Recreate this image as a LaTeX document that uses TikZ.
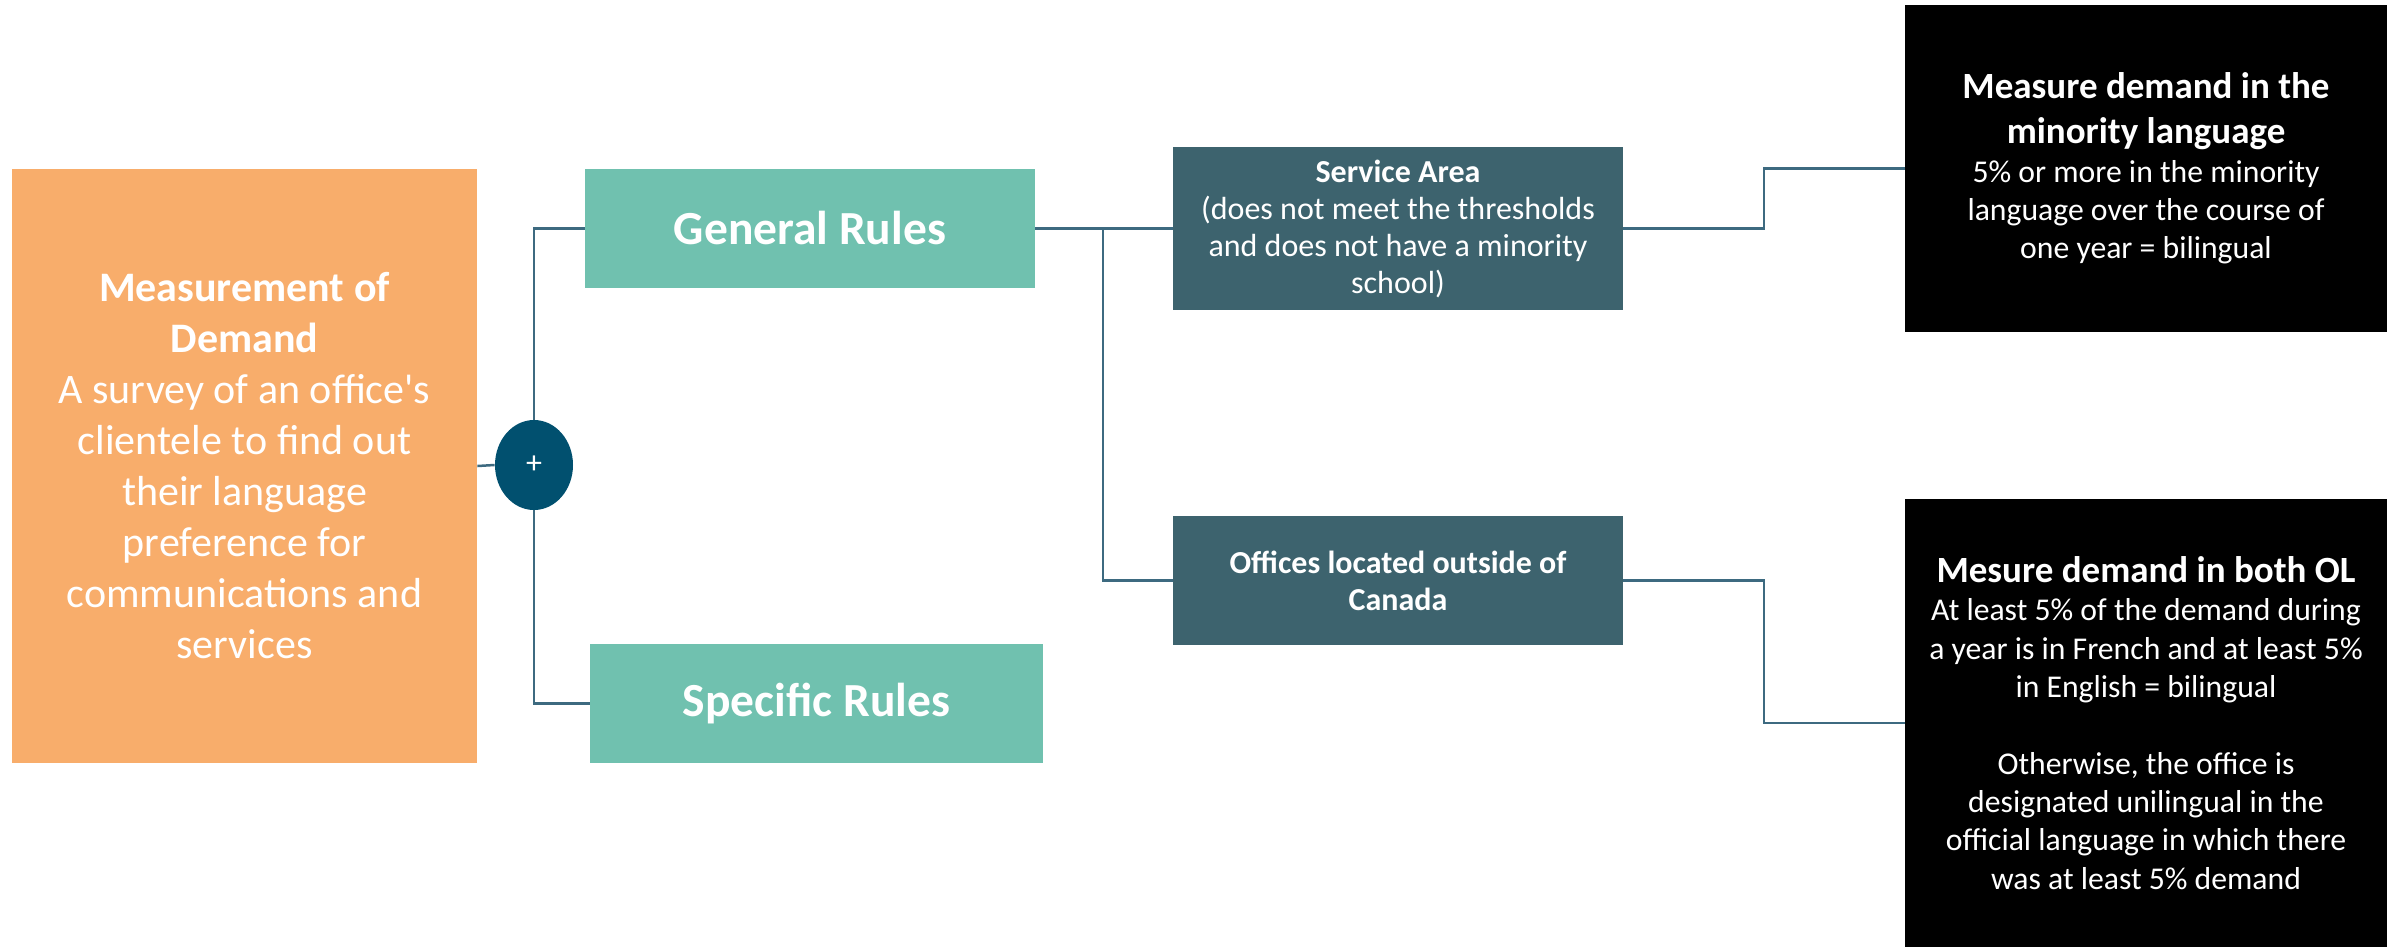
\documentclass[tikz,border=0pt]{standalone}
\usepackage{fontspec}
\setmainfont{Carlito}
\usetikzlibrary{shapes.geometric}
\definecolor{orangebox}{HTML}{F8AD6B}
\definecolor{tealbox}{HTML}{70C1AF}
\definecolor{slatebox}{HTML}{3D636E}
\definecolor{circfill}{HTML}{01506F}
\definecolor{linecol}{HTML}{3D6A80}
\begin{document}
\begin{tikzpicture}[x=0.5pt,y=-0.5pt,
  box/.style={rectangle, inner sep=0pt, text=white, align=flush center},
  bigtxt/.style={font=\fontsize{21pt}{25.5pt}\selectfont},
  ruletxt/.style={font=\fontsize{23.75pt}{28pt}\selectfont\bfseries},
  midtxt/.style={font=\fontsize{16pt}{18.5pt}\selectfont},
  conn/.style={draw=linecol, line width=1.25pt}]
\useasboundingbox (0,0) rectangle (2402,947);

\node[box, bigtxt, fill=orangebox, minimum width=232.5pt, minimum height=297pt, text width=225pt] (meas) at (244.5,466)
  {\textbf{Measurement of}\\\textbf{Demand}\\A survey of an office\textquotesingle s\\clientele to find out\\their language\\preference for\\communications and\\services};

\node[ellipse, inner sep=0pt, fill=circfill, minimum width=39pt, minimum height=45pt, text=white, font=\fontsize{16pt}{18pt}\selectfont] (plus) at (534,465) {+};

\node[box, ruletxt, fill=tealbox, minimum width=225pt, minimum height=59.5pt] (gen) at (810,228.5) {General Rules};
\node[box, ruletxt, fill=tealbox, minimum width=226.5pt, minimum height=59.5pt] (spec) at (816.5,703.5) {Specific Rules};

\node[box, midtxt, fill=slatebox, minimum width=225pt, minimum height=81.5pt, text width=220pt] (serv) at (1398,228.5)
  {\textbf{Service Area}\\(does not meet the thresholds\\and does not have a minority\\school)};
\node[box, midtxt, fill=slatebox, minimum width=225pt, minimum height=64.5pt, text width=220pt] (off) at (1398,580.5)
  {\textbf{Offices located outside of}\\\textbf{Canada}};

\node[box, fill=black, minimum width=241pt, minimum height=163.5pt, text width=235pt] (bk1) at (2146,168.5)
  {{\fontsize{18.5pt}{22.5pt}\selectfont\bfseries Measure demand in the\\minority language\par}%
   {\fontsize{15.85pt}{19.15pt}\selectfont 5\% or more in the minority\\language over the course of\\one year = bilingual\par}};
\node[box, fill=black, minimum width=241pt, minimum height=224pt, text width=235pt] (bk2) at (2146,723)
  {{\fontsize{18.5pt}{22.5pt}\selectfont\bfseries Mesure demand in both OL\par}%
   {\fontsize{15.85pt}{19.15pt}\selectfont At least 5\% of the demand during\\a year is in French and at least 5\%\\in English = bilingual\\[19.15pt]Otherwise, the office is\\designated unilingual in the\\official language in which there\\was at least 5\% demand\par}};

\coordinate (br) at (1103,0);
\coordinate (el) at (1764,0);

\draw[conn] (meas.east) -- (plus.west);
\draw[conn] (plus.north) |- (gen.west);
\draw[conn] (plus.south) |- (spec.west);
\draw[conn] (gen.east) -- (serv.west);
\draw[conn] (br |- gen.east) |- (off.west);
\draw[conn] (serv.east) -- (el |- serv.east) |- (bk1.west);
\draw[conn] (off.east) -- (el |- off.east) |- (bk2.west);
\end{tikzpicture}
\end{document}
